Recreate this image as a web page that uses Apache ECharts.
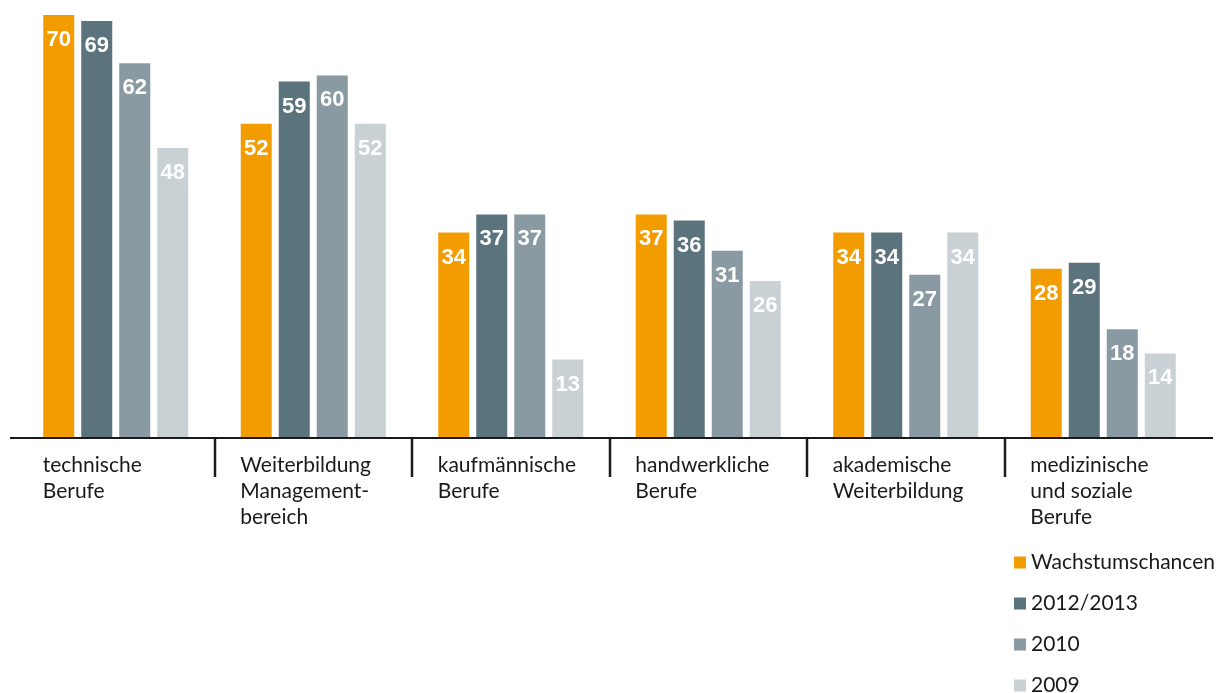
<!DOCTYPE html>
<html>
<head>
<meta charset="utf-8">
<script src="https://cdn.jsdelivr.net/npm/echarts@6/dist/echarts.min.js"></script>
<style>
  html, body { margin: 0; padding: 0; background: #fff; }
  #chart { width: 1220px; height: 693px; }
</style>
</head>
<body>
<div id="chart"></div>
<script>
// Berufsfelder (Kategorien) und Werte je Reihe
const categories = [
  'technische\nBerufe',
  'Weiterbildung\nManagement-\nbereich',
  'kaufmännische\nBerufe',
  'handwerkliche\nBerufe',
  'akademische\nWeiterbildung',
  'medizinische\nund soziale\nBerufe'
];
const seriesNames = ['Wachstumschancen', '2012/2013', '2010', '2009'];
const wachstumschancen = [70, 52, 34, 37, 34, 28];
const werte2012_2013 = [69, 59, 37, 36, 34, 29];
const werte2010 = [62, 60, 37, 31, 27, 18];
const werte2009 = [48, 52, 13, 26, 34, 14];

const colors = ['#F39C00', '#5B737C', '#8A9AA2', '#C9D1D4'];
const textFont = 'Lato, "Liberation Sans", sans-serif';
const numFont = '"Liberation Sans Narrow", "Liberation Sans", sans-serif';

const chart = echarts.init(document.getElementById('chart'), null, { renderer: 'canvas' });

function barSeries(name, data, color) {
  return {
    name: name,
    type: 'bar',
    data: data,
    barWidth: 31,
    barGap: '22.6%',
    itemStyle: { color: color },
    label: {
      show: true,
      position: 'insideTop',
      distance: 14,
      color: '#fff',
      fontFamily: numFont,
      fontWeight: 'bold',
      fontSize: 22
    },
    emphasis: { disabled: true }
  };
}

// Legende als vertikale Liste rechts unten (letzter Eintrag reicht bis an den Rand)
const legendBase = {
  orient: 'vertical',
  left: 1014,
  icon: 'rect',
  itemWidth: 12,
  itemHeight: 12,
  itemGap: 20,
  padding: 0,
  textStyle: { fontFamily: textFont, fontSize: 21, color: '#1a1a1a' }
};

chart.setOption({
  animation: false,
  color: colors,
  grid: {
    left: 17, right: 18, top: 15, bottom: 255,
    containLabel: false,
    outerBoundsMode: 'none'
  },
  legend: [
    Object.assign({}, legendBase, { top: 552, data: seriesNames.slice(0, 3) }),
    Object.assign({}, legendBase, { top: 675, data: seriesNames.slice(3) })
  ],
  xAxis: {
    type: 'category',
    data: categories,
    axisLine: { show: false },
    axisTick: { show: false },
    axisLabel: {
      align: 'left',
      verticalAlign: 'top',
      margin: 14,
      padding: [0, 0, 0, -73],
      lineHeight: 26,
      fontFamily: textFont,
      fontSize: 21,
      color: '#1a1a1a'
    }
  },
  yAxis: {
    type: 'value',
    min: 0,
    max: 70,
    show: false,
    splitLine: { show: false }
  },
  series: [
    barSeries(seriesNames[0], wachstumschancen, colors[0]),
    barSeries(seriesNames[1], werte2012_2013, colors[1]),
    barSeries(seriesNames[2], werte2010, colors[2]),
    barSeries(seriesNames[3], werte2009, colors[3])
  ]
});

// Grundlinie und Trennstriche zwischen den Kategorien
const baseY = chart.convertToPixel({ yAxisIndex: 0 }, 0);
const centers = categories.map((c, i) => chart.convertToPixel({ xAxisIndex: 0 }, i));
const graphics = [{
  type: 'line',
  shape: { x1: 10, y1: baseY, x2: 1213, y2: baseY },
  style: { stroke: '#1a1a1a', lineWidth: 2 },
  z: 10
}];
for (let i = 1; i < centers.length; i++) {
  const x = Math.round((centers[i - 1] + centers[i]) / 2);
  graphics.push({
    type: 'line',
    shape: { x1: x, y1: baseY, x2: x, y2: baseY + 39 },
    style: { stroke: '#1a1a1a', lineWidth: 2.5 },
    z: 10
  });
}
chart.setOption({ graphic: graphics });
</script>
</body>
</html>
